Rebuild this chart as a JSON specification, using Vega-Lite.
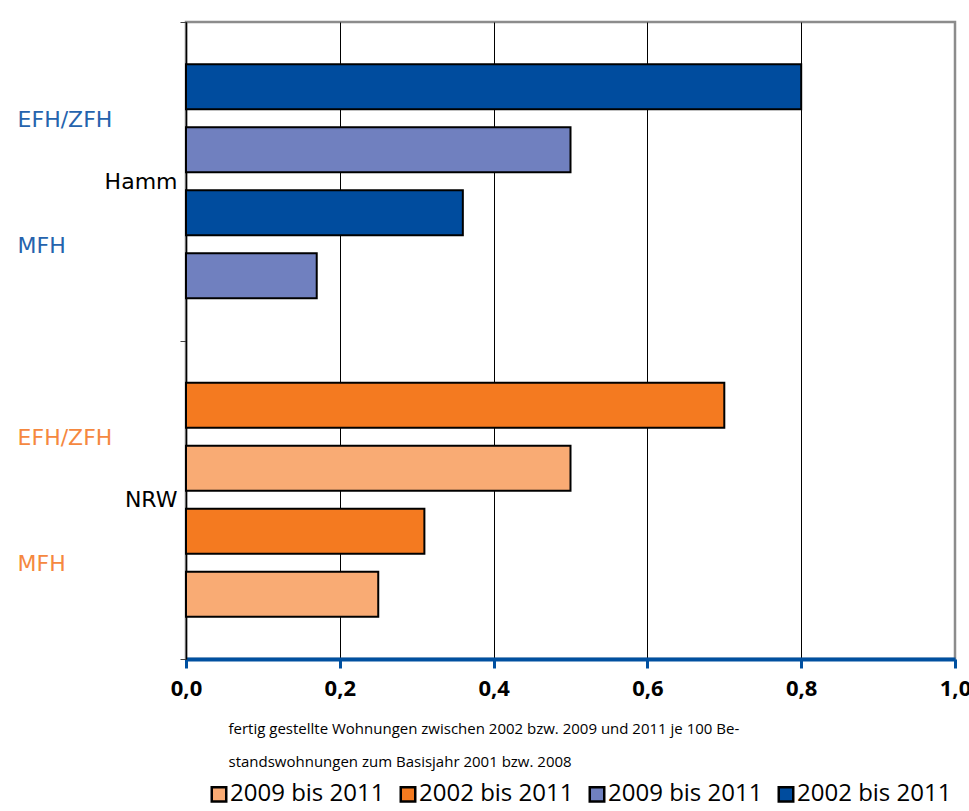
{
  "$schema": "https://vega.github.io/schema/vega-lite/v6.json",
  "width": 769,
  "height": 637,
  "autosize": {"type": "none"},
  "padding": {"left": 186, "top": 22, "right": 14, "bottom": 152},
  "background": "white",
  "config": {
    "view": {"stroke": "#8c8c8c", "strokeWidth": 2.5},
    "font": "DejaVu Sans"
  },
  "data": {
    "values": [
      {"loc": "Hamm", "typ": "EFH/ZFH", "per": "2002 bis 2011", "sub": "EFH/ZFH 2002", "series": "Hamm 2002 bis 2011", "val": 0.8},
      {"loc": "Hamm", "typ": "EFH/ZFH", "per": "2009 bis 2011", "sub": "EFH/ZFH 2009", "series": "Hamm 2009 bis 2011", "val": 0.5},
      {"loc": "Hamm", "typ": "MFH", "per": "2002 bis 2011", "sub": "MFH 2002", "series": "Hamm 2002 bis 2011", "val": 0.36},
      {"loc": "Hamm", "typ": "MFH", "per": "2009 bis 2011", "sub": "MFH 2009", "series": "Hamm 2009 bis 2011", "val": 0.17},
      {"loc": "NRW", "typ": "EFH/ZFH", "per": "2002 bis 2011", "sub": "EFH/ZFH 2002", "series": "NRW 2002 bis 2011", "val": 0.7},
      {"loc": "NRW", "typ": "EFH/ZFH", "per": "2009 bis 2011", "sub": "EFH/ZFH 2009", "series": "NRW 2009 bis 2011", "val": 0.5},
      {"loc": "NRW", "typ": "MFH", "per": "2002 bis 2011", "sub": "MFH 2002", "series": "NRW 2002 bis 2011", "val": 0.31},
      {"loc": "NRW", "typ": "MFH", "per": "2009 bis 2011", "sub": "MFH 2009", "series": "NRW 2009 bis 2011", "val": 0.25}
    ]
  },
  "encoding": {
    "y": {
      "field": "loc",
      "type": "nominal",
      "sort": ["Hamm", "NRW"],
      "scale": {"paddingInner": 0, "paddingOuter": 0},
      "axis": {
        "title": null,
        "tickBand": "extent",
        "labelFont": "DejaVu Sans",
        "labelFontSize": 22,
        "labelColor": "black",
        "labelPadding": 3,
        "tickColor": "#444",
        "tickSize": 6,
        "domainColor": "black",
        "domainWidth": 1.5
      }
    },
    "yOffset": {
      "field": "sub",
      "type": "nominal",
      "sort": ["EFH/ZFH 2002", "EFH/ZFH 2009", "MFH 2002", "MFH 2009"],
      "scale": {"paddingInner": 0.286, "paddingOuter": 0.671}
    }
  },
  "layer": [
    {
      "mark": {"type": "bar", "stroke": "black", "strokeWidth": 2},
      "encoding": {
        "x": {
          "field": "val",
          "type": "quantitative",
          "scale": {"domain": [0, 1], "nice": false},
          "axis": {
            "values": [0, 0.2, 0.4, 0.6, 0.8, 1.0],
            "labelExpr": "replace(format(datum.value, '.1f'), '.', ',')",
            "labelFont": "Open Sans",
            "labelFontWeight": "bold",
            "labelFontSize": 22,
            "labelColor": "black",
            "labelPadding": 10,
            "labelFlush": false,
            "labelBound": false,
            "labelOverlap": false,
            "domainColor": "#0050A0",
            "domainWidth": 4,
            "tickColor": "#0050A0",
            "tickWidth": 3,
            "tickSize": 9,
            "grid": true,
            "gridColor": {"condition": {"test": "datum.value == 1", "value": "#8c8c8c"}, "value": "black"},
            "gridWidth": 1,
            "title": ["fertig gestellte Wohnungen zwischen 2002 bzw. 2009 und 2011 je 100 Be-", "standswohnungen zum Basisjahr 2001 bzw. 2008"],
            "titleFont": "Open Sans",
            "titleFontWeight": "normal",
            "titleFontSize": 15,
            "titleColor": "black",
            "titleAlign": "left",
            "titleAnchor": "start",
            "titleBaseline": "top",
            "titleX": 42,
            "titleY": 62,
            "titleLineHeight": 33
          }
        },
        "color": {
          "field": "series",
          "type": "nominal",
          "scale": {
            "domain": ["NRW 2009 bis 2011", "NRW 2002 bis 2011", "Hamm 2009 bis 2011", "Hamm 2002 bis 2011"],
            "range": ["#F9AB74", "#F47A20", "#7080BF", "#004C9E"]
          },
          "legend": {
            "title": null,
            "orient": "none",
            "direction": "horizontal",
            "legendX": 21,
            "legendY": 760,
            "labelExpr": "slice(datum.label, indexof(datum.label, ' ') + 1)",
            "labelLimit": 300,
            "symbolType": "square",
            "symbolSize": 210,
            "symbolStrokeColor": "black",
            "symbolStrokeWidth": 2.5,
            "labelFont": "Open Sans",
            "labelFontSize": 24,
            "labelColor": "black",
            "labelOffset": -1,
            "columnPadding": 10
          }
        }
      }
    },
    {
      "transform": [{"filter": "datum.per == '2002 bis 2011'"}],
      "mark": {"type": "text", "align": "left", "baseline": "middle", "dy": 33, "font": "DejaVu Sans", "fontSize": 22},
      "encoding": {
        "x": {"datum": -0.219, "type": "quantitative"},
        "text": {"field": "typ"},
        "color": {"condition": {"test": "datum.loc == 'Hamm'", "value": "#2563AD"}, "value": "#F5883F"}
      }
    }
  ]
}
